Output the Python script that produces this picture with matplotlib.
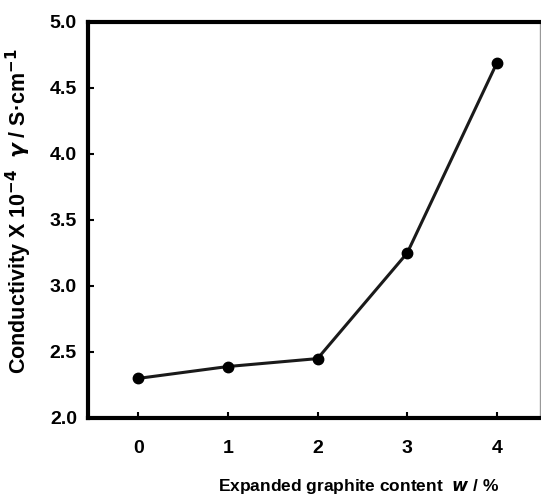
import matplotlib
matplotlib.use("Agg")
import matplotlib.pyplot as plt

# expanded graphite content (w / %) vs conductivity
content = [0, 1, 2, 3, 4]
conductivity = [2.30, 2.39, 2.45, 3.25, 4.69]
yticks = [2.0, 2.5, 3.0, 3.5, 4.0, 4.5, 5.0]

plt.rcParams["font.family"] = ["Liberation Sans", "DejaVu Sans"]
plt.rcParams["font.weight"] = "bold"

fig = plt.figure(figsize=(5.41, 5.0), dpi=100)
ax = fig.add_axes([0.1627, 0.164, 0.8353, 0.792])

ax.plot(content, conductivity, color="#1a1a1a", lw=2.2, marker="o", ms=7.5,
        mfc="black", mec="black")

ax.set_xlim(-0.56, 4.48)
ax.set_ylim(2.0, 5.0)
ax.set_xticks(content)
ax.set_yticks(yticks)
ax.set_yticklabels([f"{v:.1f}" for v in yticks])
ax.tick_params(direction="in", length=4, width=1.5, labelsize=14, pad=8)
ax.tick_params(axis="x", pad=16)

for s in ("left", "top", "bottom"):
    ax.spines[s].set_linewidth(3)
ax.spines["right"].set_linewidth(1)
ax.spines["right"].set_color("#999999")

# axis titles placed by their centres, as in the reference
fig.text(0.662, 0.028, "Expanded graphite content  $\\it{w}$ / %", fontsize=12.5,
         fontweight="bold", ha="center", va="center")
fig.text(0.035, 0.578, "Conductivity X 10$^{-4}$  $\\it{\\gamma}$ / S·cm$^{-1}$",
         fontsize=15.5, fontweight="bold", rotation=90, ha="center", va="center")

fig.savefig("out.png", dpi=100)
